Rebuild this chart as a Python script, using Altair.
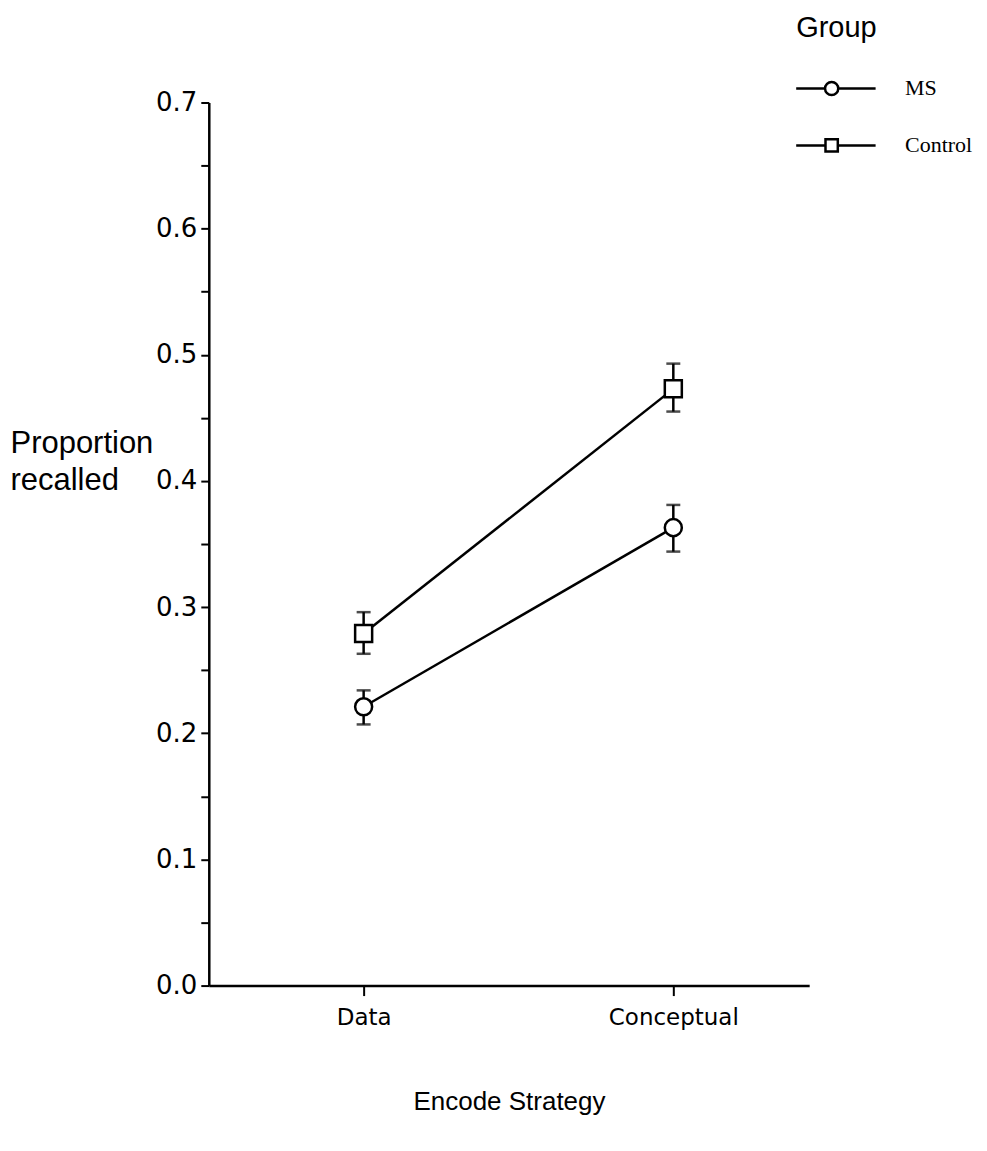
import json
import altair as alt
import pandas as pd

# ---- data ----
strategies = ["Data", "Conceptual"]
groups = ["MS", "Control"]
ms_mean = [0.221, 0.363]
ms_lo = [0.207, 0.344]
ms_hi = [0.234, 0.381]
ctrl_mean = [0.279, 0.473]
ctrl_lo = [0.263, 0.455]
ctrl_hi = [0.296, 0.493]
y_tick_values = [0.0, 0.05, 0.1, 0.15, 0.2, 0.25, 0.3, 0.35, 0.4, 0.45, 0.5, 0.55, 0.6, 0.65, 0.7]

rows = []
for g, means, los, his in [("MS", ms_mean, ms_lo, ms_hi), ("Control", ctrl_mean, ctrl_lo, ctrl_hi)]:
    for i, s in enumerate(strategies):
        rows.append({"Group": g, "Strategy": s, "idx": i,
                     "mean": means[i], "lo": los[i], "hi": his[i]})
df = pd.DataFrame(rows)

TITLE_FONT = "Liberation Sans"
TICK_FONT = "DejaVu Sans"

x_enc = alt.X(
    "idx:Q",
    scale=alt.Scale(domain=[-0.5, 1.4387], nice=False, zero=False),
    axis=alt.Axis(
        values=[0, 1],
        labelExpr=json.dumps(strategies) + "[datum.value]",
        title="Encode Strategy",
        grid=False,
        domainColor="black", domainWidth=2.5,
        tickColor="black", tickWidth=2, tickSize=10,
        labelFont=TICK_FONT, labelFontSize=23, labelColor="black",
        labelPadding=11,
        titleFont=TITLE_FONT, titleFontSize=26, titleFontWeight="normal",
        titleColor="black", titleY=124, titleBaseline="alphabetic",
    ),
)

y_axis = alt.Axis(
    values=y_tick_values,
    labelExpr="abs(datum.value*10 - round(datum.value*10)) < 0.001 ? format(datum.value, '.1f') : ''",
    title=["Proportion", "recalled"],
    grid=False,
    domainColor="black", domainWidth=2.5,
    tickColor="black", tickWidth=2, tickSize=8,
    labelFont=TICK_FONT, labelFontSize=26, labelColor="black", labelPadding=4,
    titleFont=TITLE_FONT, titleFontSize=31, titleFontWeight="normal", titleColor="black",
    titleAngle=0, titleAlign="left", titleBaseline="alphabetic",
    titleX=-199, titleY=350, titleLineHeight=37,
)
y_scale = alt.Scale(domain=[0, 0.7], nice=False, zero=False)

base = alt.Chart(df)

lines = base.mark_line(color="black", strokeWidth=2.5).encode(
    x=x_enc,
    y=alt.Y("mean:Q", scale=y_scale, axis=y_axis),
    detail="Group:N",
)

bars = base.mark_rule(color="black", strokeWidth=2.5).encode(
    x="idx:Q", y="lo:Q", y2="hi:Q",
)
caps_lo = base.mark_tick(color="black", thickness=2.5, size=14, orient="horizontal").encode(
    x="idx:Q", y="lo:Q",
)
caps_hi = base.mark_tick(color="black", thickness=2.5, size=14, orient="horizontal").encode(
    x="idx:Q", y="hi:Q",
)

points = base.mark_point(filled=True, fill="white", stroke="black", strokeWidth=2.5,
                         size=290, opacity=1).encode(
    x="idx:Q",
    y="mean:Q",
    shape=alt.Shape("Group:N", scale=alt.Scale(domain=groups, range=["circle", "square"]),
                    legend=None),
)

circle_leg = "M-1,0L-0.15,0M0.15,0L1,0M0.15,0A0.15,0.15,0,1,1,-0.15,0A0.15,0.15,0,1,1,0.15,0Z"
square_leg = "M-1,0L-0.14,0M0.14,0L1,0M-0.14,-0.14L0.14,-0.14L0.14,0.14L-0.14,0.14Z"

legend_layer = base.mark_point(opacity=0).encode(
    x="idx:Q",
    y="mean:Q",
    shape=alt.Shape(
        "Group:N",
        scale=alt.Scale(domain=groups, range=[circle_leg, square_leg]),
        legend=alt.Legend(
            title="Group", orient="none", legendX=588, legendY=-89,
            titleFont=TITLE_FONT, titleFontSize=29, titleFontWeight="normal",
            titleColor="black", titleBaseline="top", titlePadding=36,
            labelFont="Liberation Serif", labelFontSize=22, labelColor="black",
            labelOffset=28,
            symbolSize=7744, symbolStrokeWidth=2.5, symbolStrokeColor="black",
            symbolFillColor="white", symbolOpacity=1, symbolOffset=-10,
            clipHeight=20, rowPadding=35, padding=0,
        ),
    ),
)

chart = (
    alt.layer(lines, bars, caps_lo, caps_hi, points, legend_layer)
    .resolve_scale(shape="independent")
    .properties(
        width=601, height=884,
        autosize=alt.AutoSizeParams(type="none"),
        padding={"left": 201, "top": 94, "right": 170, "bottom": 150},
        background="white",
    )
    .configure_view(stroke=None)
)

chart.save("out.html", embed_options={"renderer": "svg", "actions": False})
